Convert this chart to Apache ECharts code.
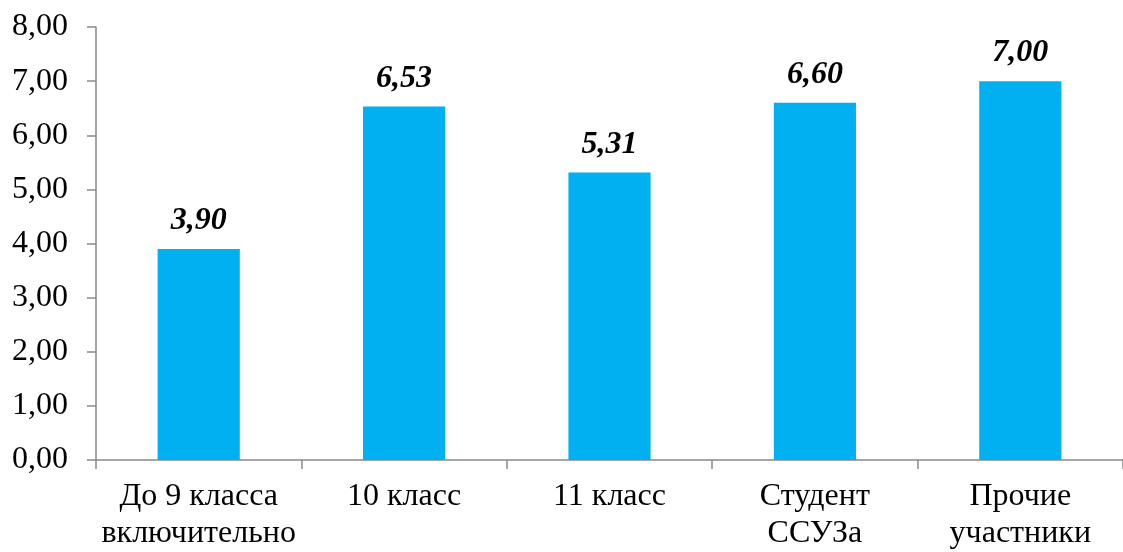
<!DOCTYPE html>
<html><head><meta charset="utf-8">
<script src="https://cdn.jsdelivr.net/npm/echarts@6/dist/echarts.min.js"></script>
<style>html,body{margin:0;padding:0;background:#fff}#c{width:1123px;height:552px}</style>
</head><body><div id="c"></div>
<script>
const categories = ['До 9 класса\nвключительно', '10 класс', '11 класс', 'Студент\nССУЗа', 'Прочие\nучастники'];
const values = [3.90, 6.53, 5.31, 6.60, 7.00];
const yMin = 0, yMax = 8, yStep = 1;
const fmt = v => v.toFixed(2).replace('.', ',');
const chart = echarts.init(document.getElementById('c'));
chart.setOption({
  animation: false,
  grid: {left: 96, top: 27, width: 1051, height: 442, containLabel: false},
  xAxis: {
    type: 'category', data: categories,
    axisLine: {lineStyle: {color: '#898989', width: 1.5}},
    axisTick: {show: true, interval: 0, length: 9, lineStyle: {color: '#898989', width: 1.5}},
    axisLabel: {interval: 0, fontFamily: 'Liberation Serif', fontSize: 32, color: '#000', margin: 18, lineHeight: 37}
  },
  yAxis: {
    type: 'value', min: yMin, max: yMax, interval: yStep,
    splitLine: {show: false},
    axisLine: {show: true, lineStyle: {color: '#898989', width: 1.5}},
    axisTick: {show: true, length: 9, lineStyle: {color: '#898989', width: 1.5}},
    axisLabel: {fontFamily: 'Liberation Serif', fontSize: 32, color: '#000', margin: 28, formatter: v => fmt(v)}
  },
  series: [{
    type: 'bar', data: values, barWidth: '40%',
    itemStyle: {color: '#00B0F0'},
    label: {show: true, position: 'top', distance: 12, fontFamily: 'Liberation Serif', fontSize: 32,
      fontWeight: 'bold', fontStyle: 'italic', color: '#000', formatter: p => fmt(p.value)}
  }]
});
</script></body></html>
